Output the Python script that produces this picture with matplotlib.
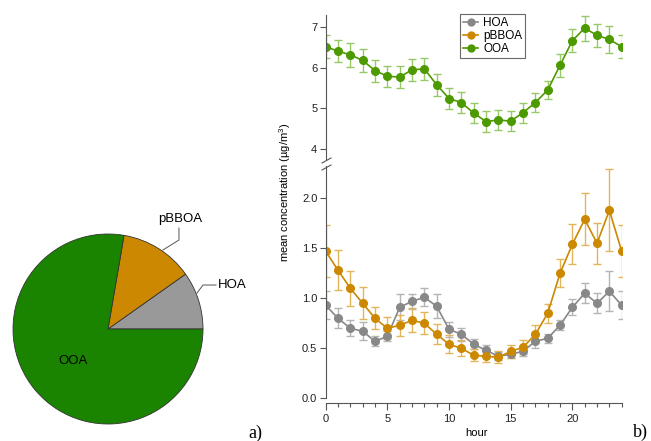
import numpy as np
import matplotlib
matplotlib.use('Agg')
import matplotlib.pyplot as plt
from matplotlib.lines import Line2D

plt.rcParams['font.family'] = ['Liberation Sans', 'DejaVu Sans']
plt.rcParams['mathtext.default'] = 'regular'

hours = list(range(25))

hoa = [0.93, 0.80, 0.70, 0.67, 0.57, 0.62, 0.91, 0.97, 1.01, 0.92, 0.69, 0.64, 0.54,
       0.48, 0.42, 0.44, 0.47, 0.57, 0.60, 0.73, 0.91, 1.05, 0.95, 1.07, 0.93]
hoa_err = [0.14, 0.10, 0.08, 0.09, 0.05, 0.05, 0.13, 0.075, 0.09, 0.12, 0.075, 0.065, 0.05,
           0.055, 0.04, 0.04, 0.05, 0.065, 0.045, 0.05, 0.08, 0.10, 0.10, 0.20, 0.14]

pbboa = [1.47, 1.28, 1.10, 0.95, 0.80, 0.70, 0.73, 0.78, 0.75, 0.64, 0.54, 0.50, 0.43,
         0.42, 0.41, 0.47, 0.51, 0.64, 0.85, 1.25, 1.54, 1.79, 1.55, 1.88, 1.47]
pbboa_err = [0.26, 0.20, 0.175, 0.16, 0.11, 0.11, 0.105, 0.12, 0.11, 0.10, 0.09, 0.08, 0.06,
             0.06, 0.06, 0.065, 0.07, 0.09, 0.095, 0.14, 0.20, 0.26, 0.205, 0.41, 0.26]

ooa = [6.52, 6.41, 6.32, 6.18, 5.93, 5.79, 5.77, 5.95, 5.97, 5.58, 5.24, 5.14, 4.88,
       4.67, 4.71, 4.68, 4.89, 5.14, 5.45, 6.06, 6.67, 6.98, 6.80, 6.70, 6.52]
ooa_err = [0.29, 0.27, 0.29, 0.29, 0.27, 0.26, 0.28, 0.27, 0.28, 0.27, 0.25, 0.27, 0.24,
           0.25, 0.25, 0.24, 0.25, 0.24, 0.23, 0.28, 0.285, 0.31, 0.285, 0.33, 0.29]

pie_labels = ['HOA', 'pBBOA', 'OOA']
pie_fracs = [9.8, 12.5, 77.7]
pie_colors = ['#999999', '#cc8800', '#1a8400']

names = ['HOA', 'pBBOA', 'OOA']
line_colors = ['#888888', '#cc8800', '#4c9a00']
err_colors = ['#b4b4b4', '#e2b55a', '#97c866']

W, H = 651, 441
fig = plt.figure(figsize=(W / 100, H / 100), dpi=100)

def px(x0, y0, x1, y1):
    # pixel box (top-left origin) -> figure fraction rect
    return [x0 / W, 1 - y1 / H, (x1 - x0) / W, (y1 - y0) / H]

# ---- pie ----
axp = fig.add_axes(px(13, 234, 203, 424))
axp.pie(pie_fracs, colors=pie_colors, startangle=0, counterclock=True,
        wedgeprops=dict(edgecolor='#333333', linewidth=0.6))
axp.set_xlim(-1, 1)
axp.set_ylim(-1, 1)
axp.set_aspect('equal')
axp.axis('off')
axp.plot([0.579, 0.747, 0.747], [0.832, 0.937, 1.063], color='#555555', lw=0.7, clip_on=False)
axp.plot([0.937, 1.0, 1.137], [0.379, 0.463, 0.463], color='#555555', lw=0.7, clip_on=False)
axp.text(0.758, 1.16, 'pBBOA', ha='center', va='center', fontsize=9.5)
axp.text(1.158, 0.46, 'HOA', ha='left', va='center', fontsize=9.5)
axp.text(-0.372, -0.337, 'OOA', ha='center', va='center', fontsize=9.5)

# ---- diurnal ----
ax_top = fig.add_axes(px(325.7, 15.15, 621.7, 158.8))
ax_bot = fig.add_axes(px(325.7, 166.3, 621.7, 398.3))

series = [(hoa, hoa_err), (pbboa, pbboa_err), (ooa, ooa_err)]
for ax in (ax_top, ax_bot):
    for (vals, errs), c, ec in zip(series, line_colors, err_colors):
        ax.errorbar(hours, vals, yerr=errs, color=c, ecolor=ec, elinewidth=1.0,
                    capsize=3, capthick=1.0, marker='o', markersize=5.5, lw=1.2,
                    clip_on=True)
    ax.set_xlim(0, 24)
    for s in ('top', 'right'):
        ax.spines[s].set_visible(False)
    ax.spines['left'].set_color('#555555')
    ax.spines['bottom'].set_color('#555555')
    ax.tick_params(axis='both', labelsize=8, colors='#555555', labelcolor='#222222',
                   length=4, width=0.8, direction='out', pad=2)

ax_top.set_ylim(3.75, 7.3)
ax_top.set_yticks([4, 5, 6, 7])
ax_top.spines['bottom'].set_visible(False)
ax_top.tick_params(axis='x', bottom=False, labelbottom=False)

ax_bot.set_ylim(0, 2.32)
ax_bot.set_yticks([0, 0.5, 1.0, 1.5, 2.0])
ax_bot.set_yticklabels(['0.0', '0.5', '1.0', '1.5', '2.0'])
ax_bot.spines['bottom'].set_position(('outward', 3.6))
ax_bot.set_xticks([0, 5, 10, 15, 20])
ax_bot.set_xticks(hours, minor=True)
ax_bot.tick_params(axis='x', which='major', length=5, pad=3)
ax_bot.tick_params(axis='x', which='minor', length=3, width=0.8, colors='#555555')

# axis break marks
for yb in (158, 165):
    fig.add_artist(Line2D([322 / W, 331 / W], [1 - (yb + 5) / H, 1 - yb / H],
                          color='#555555', lw=0.8))

handles = [Line2D([], [], color=c, marker='o', markersize=5, lw=1.2) for c in line_colors]
leg = ax_top.legend(handles, names, loc='upper left', bbox_to_anchor=(460 / W, 1 - 14 / H),
                    bbox_transform=fig.transFigure, fontsize=8.5, frameon=True, fancybox=False,
                    borderaxespad=0, handlelength=1.3, handletextpad=0.4, labelspacing=0.1,
                    borderpad=0.25)
leg.get_frame().set_edgecolor('#444444')
leg.get_frame().set_linewidth(0.8)

fig.text(285 / W, 1 - 192 / H, r'mean concentration (µg/m$^{3}$)', rotation=90,
         ha='center', va='center', fontsize=8)
fig.text(476 / W, 1 - 433 / H, 'hour', ha='center', va='center', fontsize=8)

fig.text(255 / W, 1 - 433 / H, 'a)', ha='center', va='center', fontsize=13,
         family='Liberation Serif')
fig.text(640 / W, 1 - 432 / H, 'b)', ha='center', va='center', fontsize=13,
         family='Liberation Serif')

fig.savefig('out.png', dpi=100)
